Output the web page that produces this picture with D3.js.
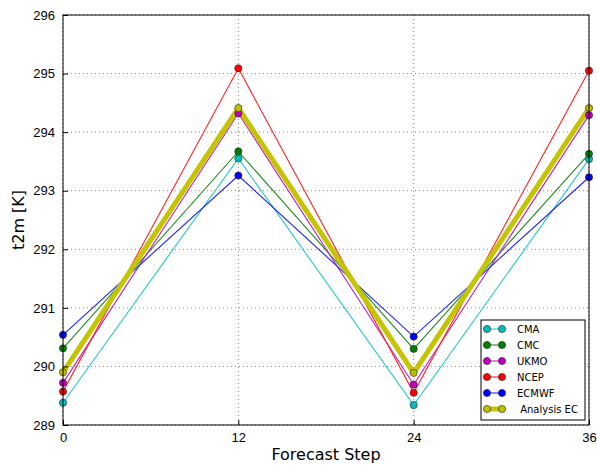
<!DOCTYPE html>
<html>
<head>
<meta charset="utf-8">
<script src="https://cdn.jsdelivr.net/npm/d3@7"></script>
<style>
  body { margin: 0; background: #fff; }
  svg { font-family: "DejaVu Sans", sans-serif; }
</style>
</head>
<body>
<div class="graphContainer"></div>
<script>
// size and margins
const w = 597;
const h = 468;
const m = {top: 15, right: 8, bottom: 43, left: 63};

// data
const steps = [0, 12, 24, 36];
const seriesNames = ["CMA", "CMC", "UKMO", "NCEP", "ECMWF", " Analysis EC"];
const cma = [289.38, 293.55, 289.34, 293.54];
const cmc = [290.31, 293.67, 290.30, 293.63];
const ukmo = [289.72, 294.32, 289.69, 294.29];
const ncep = [289.57, 295.09, 289.55, 295.05];
const ecmwf = [290.54, 293.26, 290.51, 293.23];
const analysisEC = [289.90, 294.41, 289.89, 294.41];
const yTicks = [289, 290, 291, 292, 293, 294, 295, 296];

const seriesValues = [cma, cmc, ukmo, ncep, ecmwf, analysisEC];
const colors = ["#00bfbf", "#008000", "#bf00bf", "#ff0000", "#0000ff", "#bfbf00"];
const lineColors = ["#22c8c8", "#228b22", "#bf22bf", "#ff2222", "#2222ff", "#c4c400"];
const widths = [1.1, 1.1, 1.1, 1.1, 1.1, 5];

const svg = d3.select(".graphContainer").append("svg")
  .attr("width", w)
  .attr("height", h);

const x = d3.scaleLinear().domain([0, 36]).range([m.left, w - m.right]);
const y = d3.scaleLinear().domain([289, 296]).range([h - m.bottom, m.top]);

// grid
svg.append("g").selectAll("line")
  .data(steps)
  .enter().append("line")
  .attr("x1", d => x(d)).attr("x2", d => x(d))
  .attr("y1", m.top).attr("y2", h - m.bottom)
  .attr("stroke", "#888").attr("stroke-dasharray", "1,3");

svg.append("g").selectAll("line")
  .data(yTicks)
  .enter().append("line")
  .attr("x1", m.left).attr("x2", w - m.right)
  .attr("y1", d => y(d)).attr("y2", d => y(d))
  .attr("stroke", "#888").attr("stroke-dasharray", "1,3");

// lines
const line = d3.line().x((d, i) => x(steps[i])).y(d => y(d));

seriesValues.forEach((vals, k) => {
  svg.append("path")
    .datum(vals)
    .attr("d", line)
    .attr("fill", "none")
    .attr("stroke", lineColors[k])
    .attr("stroke-width", widths[k])
    .attr("stroke-linejoin", "miter");
});

seriesValues.forEach((vals, k) => {
  svg.append("g").selectAll("circle")
    .data(vals)
    .enter().append("circle")
    .attr("cx", (d, i) => x(steps[i]))
    .attr("cy", d => y(d))
    .attr("r", 3.6)
    .attr("fill", colors[k])
    .attr("stroke", "#222")
    .attr("stroke-width", 0.6);
});

// axes
const xAxis = d3.axisBottom(x).tickValues(steps).tickSizeInner(-5).tickSizeOuter(0).tickPadding(8);
const yAxis = d3.axisLeft(y).tickValues(yTicks).tickFormat(d3.format("d"))
  .tickSizeInner(-5).tickSizeOuter(0).tickPadding(8);

const gx = svg.append("g")
  .attr("transform", "translate(0," + (h - m.bottom) + ")")
  .call(xAxis);
const gy = svg.append("g")
  .attr("transform", "translate(" + m.left + ",0)")
  .call(yAxis);
[gx, gy].forEach(g => {
  g.select(".domain").remove();
  g.selectAll("text").style("font-size", "13px").attr("fill", "#000");
  g.selectAll("line").attr("stroke", "#000");
});

// frame
svg.append("rect")
  .attr("x", m.left).attr("y", m.top)
  .attr("width", w - m.left - m.right)
  .attr("height", h - m.top - m.bottom)
  .attr("fill", "none")
  .attr("stroke", "#000")
  .attr("stroke-width", 1);

// axis titles
svg.append("text")
  .attr("x", (m.left + w - m.right) / 2)
  .attr("y", h - 8)
  .attr("text-anchor", "middle")
  .style("font-size", "16px")
  .text("Forecast Step");

svg.append("text")
  .attr("transform", "translate(24," + ((m.top + h - m.bottom) / 2) + ") rotate(-90)")
  .attr("text-anchor", "middle")
  .style("font-size", "16px")
  .text("t2m [K]");

// legend
const legend = svg.append("g");
legend.append("rect")
  .attr("x", 481).attr("y", 320)
  .attr("width", 104).attr("height", 100)
  .attr("fill", "#fff")
  .attr("stroke", "#000");

seriesNames.forEach((name, k) => {
  const ly = 329 + k * 16;
  legend.append("line")
    .attr("x1", 487).attr("x2", 502)
    .attr("y1", ly).attr("y2", ly)
    .attr("stroke", lineColors[k])
    .attr("stroke-width", widths[k]);
  [487, 502].forEach(cx => {
    legend.append("circle")
      .attr("cx", cx).attr("cy", ly).attr("r", 3.6)
      .attr("fill", colors[k]).attr("stroke", "#222").attr("stroke-width", 0.6);
  });
  legend.append("text")
    .attr("x", 517).attr("y", ly + 3.5)
    .style("font-size", "10px")
    .style("white-space", "pre")
    .text(name);
});
</script>
</body>
</html>
